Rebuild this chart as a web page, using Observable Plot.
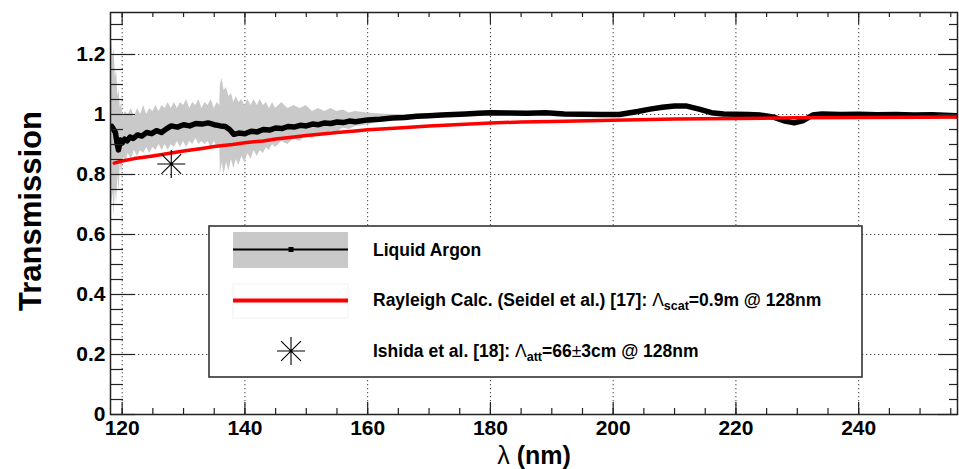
<!DOCTYPE html>
<html><head><meta charset="utf-8">
<script src="https://cdn.jsdelivr.net/npm/d3@7"></script>
<script src="https://cdn.jsdelivr.net/npm/@observablehq/plot@0.6"></script>
<style>html,body{margin:0;padding:0;background:#fff}</style>
</head><body><div id="chart"></div>
<script>
// ---- Data ----
// Liquid argon transmission (black)
const lar_nm = [118.3,118.6,118.9,119.2,119.4,119.7,120.0,120.4,120.8,121.3,121.8,122.5,123.2,124.0,124.8,125.6,126.4,127.2,128.0,129,130,131,132,133,134,135,136,136.8,137.5,138.2,139,140,141,142,143,144,145,146,147,148,149,150,151,152,153,154,155,156,157,158,160,162,164,166,168,170,172,174,176,178,180,183,186,189,192,195,198,201,204,206,208,210,212,214,216,218,220,222,224,226,228,229.5,231,232.5,234,237,240,243,246,249,252,255.9];
const lar_T = [0.960,0.950,0.940,0.900,0.882,0.915,0.905,0.918,0.912,0.925,0.920,0.932,0.928,0.940,0.936,0.946,0.940,0.952,0.962,0.958,0.966,0.962,0.970,0.968,0.972,0.966,0.962,0.960,0.950,0.934,0.938,0.936,0.944,0.942,0.950,0.948,0.955,0.953,0.960,0.958,0.964,0.962,0.968,0.966,0.972,0.970,0.975,0.973,0.978,0.976,0.982,0.984,0.988,0.990,0.994,0.996,0.998,1.000,1.002,1.004,1.006,1.005,1.004,1.006,1.002,1.001,1.000,1.000,1.010,1.018,1.024,1.028,1.028,1.018,1.006,1.002,1.001,1.000,0.998,0.992,0.978,0.972,0.980,0.998,1.002,1.000,1.001,0.999,1.000,0.998,0.999,0.996];

// Uncertainty band (grey): lower / upper edges
const band_nm = [118.1,118.3,118.5,118.7,118.9,119.1,119.3,119.5,119.7,119.9,120.2,120.5,121,121.5,122,122.5,123,123.5,124,124.5,125,125.5,126,126.5,127,127.5,128,128.5,129,129.5,130,130.5,131,131.5,132,132.5,133,133.5,134,134.5,135,135.5,135.9,136.0,136.3,136.6,137,137.4,137.8,138.2,138.6,139,139.5,140,140.5,141,141.5,142,142.5,143,143.5,144,144.5,145,146,147,148,149,150,151,152,153,154,155,156,157,158,160,162,164,166,168];
const band_lo = [0.75,0.70,0.74,0.66,0.76,0.70,0.80,0.74,0.84,0.80,0.86,0.84,0.87,0.85,0.88,0.86,0.88,0.87,0.89,0.87,0.89,0.88,0.90,0.88,0.90,0.88,0.90,0.89,0.91,0.89,0.91,0.89,0.91,0.90,0.92,0.90,0.91,0.90,0.91,0.89,0.91,0.89,0.90,0.80,0.84,0.80,0.84,0.81,0.85,0.82,0.85,0.83,0.86,0.84,0.87,0.85,0.88,0.86,0.88,0.87,0.89,0.88,0.90,0.89,0.91,0.90,0.92,0.91,0.93,0.92,0.935,0.93,0.945,0.94,0.955,0.95,0.96,0.965,0.975,0.98,0.985,0.99];
const band_hi = [1.22,1.25,1.19,1.22,1.12,1.15,1.06,1.08,1.02,1.04,0.99,1.01,1.00,1.02,0.99,1.02,1.00,1.03,1.00,1.02,1.01,1.03,1.01,1.03,1.02,1.04,1.02,1.04,1.02,1.04,1.03,1.05,1.02,1.04,1.03,1.05,1.02,1.04,1.03,1.05,1.02,1.04,1.03,1.10,1.12,1.08,1.09,1.06,1.07,1.04,1.06,1.04,1.05,1.03,1.05,1.03,1.05,1.03,1.05,1.03,1.04,1.02,1.04,1.02,1.04,1.02,1.03,1.02,1.03,1.01,1.02,1.01,1.02,1.01,1.015,1.005,1.01,1.005,1.002,1.0,1.0,1.0];

// Rayleigh calculation (red)
const ray_nm = [118.7,120,122,125,128,130,133,135,138,140,143,145,148,150,153,155,158,160,165,170,175,180,185,190,200,210,220,230,240,250,256];
const ray_T  = [0.838,0.845,0.853,0.862,0.872,0.878,0.887,0.893,0.900,0.906,0.912,0.918,0.925,0.930,0.936,0.940,0.945,0.949,0.955,0.962,0.967,0.972,0.975,0.977,0.981,0.985,0.987,0.989,0.990,0.991,0.992];

// Ishida et al. point (star)
const ishida_nm = [128];
const ishida_T  = [0.835];

const xMajor = [120,140,160,180,200,220,240];
const xMinor = [120,125,130,135,140,145,150,155,160,165,170,175,180,185,190,195,200,205,210,215,220,225,230,235,240,245,250,255];
const yMajor = [0,0.2,0.4,0.6,0.8,1.0,1.2];
const yMinor = [0.05,0.1,0.15,0.25,0.3,0.35,0.45,0.5,0.55,0.65,0.7,0.75,0.85,0.9,0.95,1.05,1.1,1.15,1.25,1.3];

const legendLabels = ["Liquid Argon", "Rayleigh Calc. (Seidel et al.) [17]: ", "Ishida et al. [18]: "];

// ---- Build tables ----
const lar = lar_nm.map((x,i)=>({x, y: lar_T[i]}));
const band = band_nm.map((x,i)=>({x, lo: band_lo[i], hi: band_hi[i]}));
const ray = ray_nm.map((x,i)=>({x, y: ray_T[i]}));
const ishida = ishida_nm.map((x,i)=>({x, y: ishida_T[i]}));

const W = 959, H = 469, mL = 110, mR = 2, mT = 12, mB = 55;
const iW = W - mL - mR, iH = H - mT - mB;

const star8 = {draw(ctx, size){
  const r = Math.sqrt(size/Math.PI), d = r*Math.SQRT1_2;
  ctx.moveTo(-r,0); ctx.lineTo(r,0);
  ctx.moveTo(0,-r); ctx.lineTo(0,r);
  ctx.moveTo(-d,-d); ctx.lineTo(d,d);
  ctx.moveTo(-d,d); ctx.lineTo(d,-d);
}};

const gridStyle = {stroke:"#444", strokeWidth:1, strokeDasharray:"1.3,2.7"};
const tickStyle = {stroke:"#222", strokeWidth:1.2};

const plot = Plot.plot({
  width: W, height: H,
  marginLeft: mL, marginRight: mR, marginTop: mT, marginBottom: mB,
  x: {domain:[118.1, 256.1], label:null},
  y: {domain:[0, 1.34], label:null},
  style: {fontFamily:"'Liberation Sans', Arial, sans-serif", fontSize:"21px", fontWeight:"bold", background:"#fff", color:"#000"},
  marks: [
    Plot.ruleX(xMajor, {x:d=>d, ...gridStyle}),
    Plot.ruleY(yMajor.filter(v=>v>0), {y:d=>d, ...gridStyle}),
    Plot.areaY(band, {x:"x", y1:"lo", y2:"hi", fill:"#c9c9c9", clip:true}),
    Plot.line(lar, {x:"x", y:"y", stroke:"#000", strokeWidth:5.5, clip:true}),
    Plot.line(ray, {x:"x", y:"y", stroke:"#ff0000", strokeWidth:3.5, clip:true}),
    Plot.dot(ishida, {x:"x", y:"y", symbol:star8, r:14, stroke:"#000", strokeWidth:1.1}),
    // inward ticks (ROOT style)
    Plot.ruleX(xMajor, {x:d=>d, insetTop:iH-12, ...tickStyle}),
    Plot.ruleX(xMinor, {x:d=>d, insetTop:iH-6, ...tickStyle}),
    Plot.ruleX(xMajor, {x:d=>d, insetBottom:iH-12, ...tickStyle}),
    Plot.ruleX(xMinor, {x:d=>d, insetBottom:iH-5, ...tickStyle}),
    Plot.ruleY(yMajor, {y:d=>d, insetRight:iW-25, ...tickStyle}),
    Plot.ruleY(yMinor, {y:d=>d, insetRight:iW-13, ...tickStyle}),
    Plot.ruleY(yMajor, {y:d=>d, insetLeft:iW-19, ...tickStyle}),
    Plot.ruleY(yMinor, {y:d=>d, insetLeft:iW-8, ...tickStyle}),
    Plot.frame({stroke:"#222", strokeWidth:1.5}),
    Plot.axisX({ticks:xMajor, tickSize:0, tickPadding:6, tickFormat:d=>String(d), fontSize:21, fontWeight:"bold", label:null}),
    Plot.axisY({ticks:yMajor, tickSize:0, tickPadding:5, tickFormat:d=>String(+d.toFixed(2)), fontSize:21, fontWeight:"bold", label:null})
  ]
});
document.getElementById("chart").appendChild(plot);

// ---- Titles and legend overlay ----
const svg = d3.select(plot);
const ns = "'Liberation Sans', Arial, sans-serif";

const xt = svg.append("text").attr("x", 534).attr("y", 464).attr("text-anchor","middle")
  .style("font-family", ns).style("font-size","25px").style("font-weight","bold").attr("fill","#000");
xt.append("tspan").style("font-weight","normal").text("λ");
xt.append("tspan").text(" (nm)");

svg.append("text").attr("transform","translate(41,211) rotate(-90)").attr("text-anchor","middle")
  .style("font-family", ns).style("font-size","31px").style("font-weight","bold").attr("fill","#000")
  .text("Transmission");

const lg = svg.append("g").attr("text-anchor","start");
lg.append("rect").attr("x",209).attr("y",226).attr("width",653).attr("height",151)
  .attr("fill","#fff").attr("stroke","#333").attr("stroke-width",1.6);
// entry 1
lg.append("rect").attr("x",233).attr("y",232).attr("width",115).attr("height",36).attr("fill","#c9c9c9");
lg.append("line").attr("x1",233).attr("x2",348).attr("y1",249.5).attr("y2",249.5).attr("stroke","#000").attr("stroke-width",2);
lg.append("rect").attr("x",288.5).attr("y",247).attr("width",5).attr("height",5).attr("fill","#000");
// entry 2
lg.append("rect").attr("x",233).attr("y",284).attr("width",115).attr("height",34).attr("fill","none").attr("stroke","#f2f2f2").attr("stroke-width",1);
lg.append("line").attr("x1",233).attr("x2",348).attr("y1",300.5).attr("y2",300.5).attr("stroke","#ff0000").attr("stroke-width",4);
// entry 3
const sp = d3.path(); star8.draw(sp, 14*14*Math.PI);
lg.append("path").attr("transform","translate(291,351)").attr("d", sp.toString()).attr("stroke","#000").attr("stroke-width",1.1).attr("fill","none");

const ty = [256, 306, 357];
function ltext(y){ return lg.append("text").attr("x",373).attr("y",y).attr("text-anchor","start").attr("fill","#000")
  .style("font-family",ns).style("font-size","17.5px").style("font-weight","bold"); }
ltext(ty[0]).text(legendLabels[0]);
const t2 = ltext(ty[1]);
t2.append("tspan").text(legendLabels[1]);
t2.append("tspan").style("font-weight","normal").text("Λ");
t2.append("tspan").attr("dy",4).style("font-size","12.5px").text("scat");
t2.append("tspan").attr("dy",-4).text("=0.9m @ 128nm");
const t3 = ltext(ty[2]);
t3.append("tspan").text(legendLabels[2]);
t3.append("tspan").style("font-weight","normal").text("Λ");
t3.append("tspan").attr("dy",4).style("font-size","12.5px").text("att");
t3.append("tspan").attr("dy",-4).text("=66");
t3.append("tspan").style("font-weight","normal").text("±");
t3.append("tspan").text("3cm @ 128nm");
</script>
</body></html>
